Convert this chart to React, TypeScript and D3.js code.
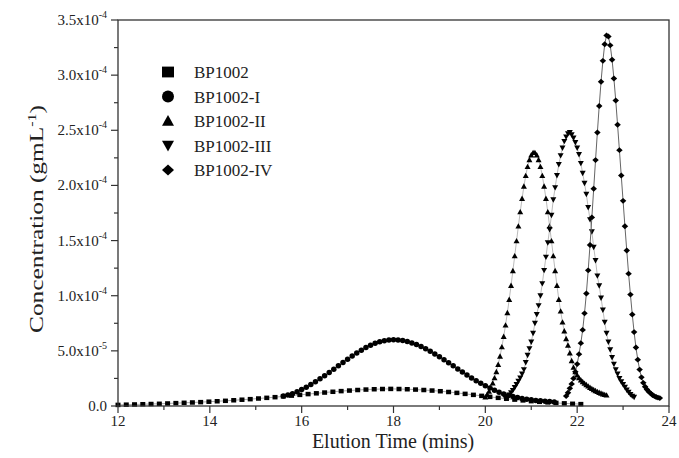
import React from 'react';
import * as d3 from 'd3';

// values are in units of 1e-5 g/mL
const UNIT = 1e-5;

const legendNames = ['BP1002', 'BP1002-I', 'BP1002-II', 'BP1002-III', 'BP1002-IV'];

const xTicks = [12, 14, 16, 18, 20, 22, 24];
const xMinorTicks = [13, 15, 17, 19, 21, 23];
const yTicks = [0, 5e-5, 1e-4, 1.5e-4, 2e-4, 2.5e-4, 3e-4, 3.5e-4];
const yMinorTicks = [2.5e-5, 7.5e-5, 1.25e-4, 1.75e-4, 2.25e-4, 2.75e-4, 3.25e-4];
const yTickMantissas = ['0.0', '5.0x10', '1.0x10', '1.5x10', '2.0x10', '2.5x10', '3.0x10', '3.5x10'];
const yTickExponents = ['', '-5', '-4', '-4', '-4', '-4', '-4', '-4'];

// BP1002 (squares): sampled every 0.18 min from 12.00
const bp1002Start = 12.0;
const bp1002Step = 0.18;
const bp1002Values = [
  0.10, 0.12, 0.14, 0.16, 0.18, 0.20, 0.23, 0.26, 0.29, 0.32,
  0.35, 0.39, 0.43, 0.47, 0.52, 0.57, 0.62, 0.68, 0.74, 0.80,
  0.87, 0.94, 1.01, 1.08, 1.15, 1.22, 1.29, 1.35, 1.40, 1.45,
  1.49, 1.52, 1.54, 1.55, 1.54, 1.52, 1.49, 1.45, 1.40, 1.34,
  1.27, 1.19, 1.10, 1.01, 0.92, 0.83, 0.74, 0.66, 0.58, 0.51,
  0.44, 0.38, 0.33, 0.28, 0.24, 0.20, 0.17,
];

// BP1002-I (circles): every 0.1 min from 15.6
const bp1002IStart = 15.6;
const bp1002IStep = 0.1;
const bp1002IValues = [
  0.90, 1.00, 1.12, 1.30, 1.50, 1.71, 1.95, 2.20, 2.47, 2.75,
  3.04, 3.34, 3.64, 3.94, 4.24, 4.53, 4.81, 5.06, 5.30, 5.50,
  5.68, 5.82, 5.92, 5.98, 6.00, 5.98, 5.93, 5.84, 5.72, 5.57,
  5.39, 5.19, 4.96, 4.72, 4.46, 4.19, 3.92, 3.64, 3.36, 3.08,
  2.81, 2.55, 2.30, 2.06, 1.84, 1.63, 1.43, 1.25, 1.09, 0.96,
  0.86, 0.77, 0.69, 0.62, 0.56, 0.51, 0.47, 0.43, 0.40, 0.37,
];

// BP1002-II (up triangles): every 0.04 min from 20.00
const bp1002IIStart = 20.0;
const bp1002IIStep = 0.04;
const bp1002IIValues = [
  0.81, 1.04, 1.32, 1.66, 2.07, 2.55, 3.11, 3.76, 4.51, 5.36,
  6.30, 7.33, 8.46, 9.66, 10.93, 12.26, 13.61, 14.97, 16.31, 17.60,
  18.81, 19.92, 20.89, 21.70, 22.33, 22.76, 22.97, 22.97, 22.76, 22.33,
  21.70, 20.89, 19.92, 18.81, 17.60, 16.31, 14.97, 13.61, 12.26, 10.93,
  9.66, 8.60, 7.60, 6.80, 6.10, 5.50, 4.80, 4.10, 3.50, 3.10,
  2.80, 2.55, 2.35, 2.20, 2.05, 1.92, 1.80, 1.68, 1.57, 1.47,
  1.38, 1.30, 1.22, 1.15, 1.09, 1.03, 0.98,
];

// BP1002-III (down triangles): every 0.04 min from 20.44
const bp1002IIIStart = 20.44;
const bp1002IIIStep = 0.04;
const bp1002IIIValues = [
  0.70, 0.82, 1.00, 1.20, 1.42, 1.68, 1.95, 2.25, 2.55, 2.90,
  3.30, 3.95, 4.60, 5.20, 5.80, 6.60, 7.50, 8.30, 9.10, 10.0,
  11.1, 12.3, 13.5, 14.8, 16.0, 17.3, 18.7, 19.8, 20.9, 21.9,
  22.7, 23.4, 24.0, 24.4, 24.7, 24.8, 24.6, 24.3, 23.9, 23.4,
  22.8, 22.0, 21.1, 20.2, 19.2, 18.0, 16.9, 15.8, 14.4, 13.2,
  11.8, 10.9, 9.8, 8.7, 7.6, 6.6, 5.8, 5.1, 4.4, 3.8,
  3.3, 2.9, 2.5, 2.2, 1.95, 1.7, 1.45, 1.25, 1.05, 0.90,
  0.80,
];

// BP1002-IV (diamonds): every 0.04 min from 21.76
const bp1002IVStart = 21.76;
const bp1002IVStep = 0.04;
const bp1002IVValues = [
  0.9, 1.2, 1.6, 2.0, 2.5, 3.1, 3.8, 4.7, 5.7, 6.9,
  8.4, 10.2, 12.3, 14.6, 17.1, 19.7, 22.3, 24.8, 27.2, 29.4,
  31.3, 32.8, 33.6, 33.5, 32.7, 31.4, 29.7, 27.7, 25.5, 23.2,
  20.9, 18.6, 16.3, 14.1, 12.0, 10.1, 8.3, 6.7, 5.3, 4.2,
  3.3, 2.6, 2.1, 1.75, 1.5, 1.3, 1.15, 1.0, 0.9, 0.82,
  0.76, 0.72,
];

type Pt = { t: number; c: number };
const toPoints = (start: number, step: number, vals: number[]): Pt[] =>
  vals.map((v, i) => ({ t: start + step * i, c: v * UNIT }));

const W = 679;
const H = 458;
const left = 118;
const right = 669;
const top = 20;
const bottom = 406;

const x = d3.scaleLinear().domain([12, 24]).range([left, right]);
const y = d3.scaleLinear().domain([0, 3.5e-4]).range([bottom, top]);

type Shape = 'square' | 'circle' | 'up' | 'down' | 'diamond';

function Marker({ shape, cx, cy, s }: { shape: Shape; cx: number; cy: number; s: number }) {
  const fill = '#000';
  if (shape === 'square') {
    return <rect x={cx - s * 0.5} y={cy - s * 0.45} width={s} height={s * 0.9} fill={fill} />;
  }
  if (shape === 'circle') {
    return <circle cx={cx} cy={cy} r={s / 2} fill={fill} />;
  }
  if (shape === 'up') {
    const h = s * 0.9;
    return <path d={`M${cx},${cy - h * 0.55}L${cx + s / 2},${cy + h * 0.45}L${cx - s / 2},${cy + h * 0.45}Z`} fill={fill} />;
  }
  if (shape === 'down') {
    const h = s * 0.9;
    return <path d={`M${cx},${cy + h * 0.55}L${cx + s / 2},${cy - h * 0.45}L${cx - s / 2},${cy - h * 0.45}Z`} fill={fill} />;
  }
  const r = s / 2;
  return <path d={`M${cx},${cy - r * 0.9}L${cx + r},${cy}L${cx},${cy + r * 0.9}L${cx - r},${cy}Z`} fill={fill} />;
}

const series: { pts: Pt[]; shape: Shape; size: number; line: string }[] = [
  { pts: toPoints(bp1002Start, bp1002Step, bp1002Values), shape: 'square', size: 5, line: '#aaa' },
  { pts: toPoints(bp1002IStart, bp1002IStep, bp1002IValues), shape: 'circle', size: 5.5, line: '#aaa' },
  { pts: toPoints(bp1002IIStart, bp1002IIStep, bp1002IIValues), shape: 'up', size: 6, line: '#bbb' },
  { pts: toPoints(bp1002IIIStart, bp1002IIIStep, bp1002IIIValues), shape: 'down', size: 6, line: '#bbb' },
  { pts: toPoints(bp1002IVStart, bp1002IVStep, bp1002IVValues), shape: 'diamond', size: 6.5, line: '#666' },
];

const legendShapes: Shape[] = ['square', 'circle', 'up', 'down', 'diamond'];

const lineGen = d3
  .line<Pt>()
  .x((d) => x(d.t))
  .y((d) => y(d.c));

const FONT = '"Liberation Serif", "Times New Roman", serif';
const AXIS = '#333';

export default function App() {
  return (
    <svg
      width={W}
      height={H}
      style={{ position: 'absolute', left: 0, top: 0, background: '#fff' }}
      fontFamily={FONT}
    >
      {/* series */}
      {series.map((s, si) => (
        <g key={si}>
          <path d={lineGen(s.pts) || ''} fill="none" stroke={s.line} strokeWidth={1} />
          {s.pts.map((p, i) => (
            <Marker key={i} shape={s.shape} cx={x(p.t)} cy={y(p.c)} s={s.size} />
          ))}
        </g>
      ))}

      {/* frame */}
      <rect x={left} y={top} width={right - left} height={bottom - top} fill="none" stroke={AXIS} strokeWidth={1.3} />

      {/* y ticks */}
      {yTicks.map((v, i) => (
        <g key={'y' + i}>
          <line x1={left - 7} x2={left} y1={y(v)} y2={y(v)} stroke={AXIS} strokeWidth={1.2} />
          <text x={107} y={y(v) + 5} fontSize={15} textAnchor="end" fill="#222">
            {yTickMantissas[i]}
            {yTickExponents[i] && (
              <tspan dy={-7} fontSize={10}>
                {yTickExponents[i]}
              </tspan>
            )}
          </text>
        </g>
      ))}
      {yMinorTicks.map((v, i) => (
        <line key={'ym' + i} x1={left - 4} x2={left} y1={y(v)} y2={y(v)} stroke={AXIS} strokeWidth={1.2} />
      ))}

      {/* x ticks */}
      {xTicks.map((v, i) => (
        <g key={'x' + i}>
          <line x1={x(v)} x2={x(v)} y1={bottom} y2={bottom + 7} stroke={AXIS} strokeWidth={1.2} />
          <text x={x(v)} y={bottom + 20} fontSize={15} textAnchor="middle" fill="#222">
            {v}
          </text>
        </g>
      ))}
      {xMinorTicks.map((v, i) => (
        <line key={'xm' + i} x1={x(v)} x2={x(v)} y1={bottom} y2={bottom + 4} stroke={AXIS} strokeWidth={1.2} />
      ))}

      {/* axis titles */}
      <text x={393} y={448} fontSize={20} textAnchor="middle" fill="#222">
        Elution Time (mins)
      </text>
      <text
        transform={`translate(43,219) rotate(-90)`}
        fontSize={19}
        textAnchor="middle"
        fill="#222"
        textLength={228}
        lengthAdjust="spacingAndGlyphs"
      >
        Concentration (gmL
        <tspan dy={-7} fontSize={12}>-1</tspan>
        <tspan dy={7}>)</tspan>
      </text>

      {/* legend */}
      {legendNames.map((n, i) => {
        const cy = 72 + i * 24.5;
        return (
          <g key={'lg' + i}>
            <Marker shape={legendShapes[i]} cx={168} cy={cy} s={12} />
            <text x={194} y={cy + 6} fontSize={17} fill="#222">
              {n}
            </text>
          </g>
        );
      })}
    </svg>
  );
}
